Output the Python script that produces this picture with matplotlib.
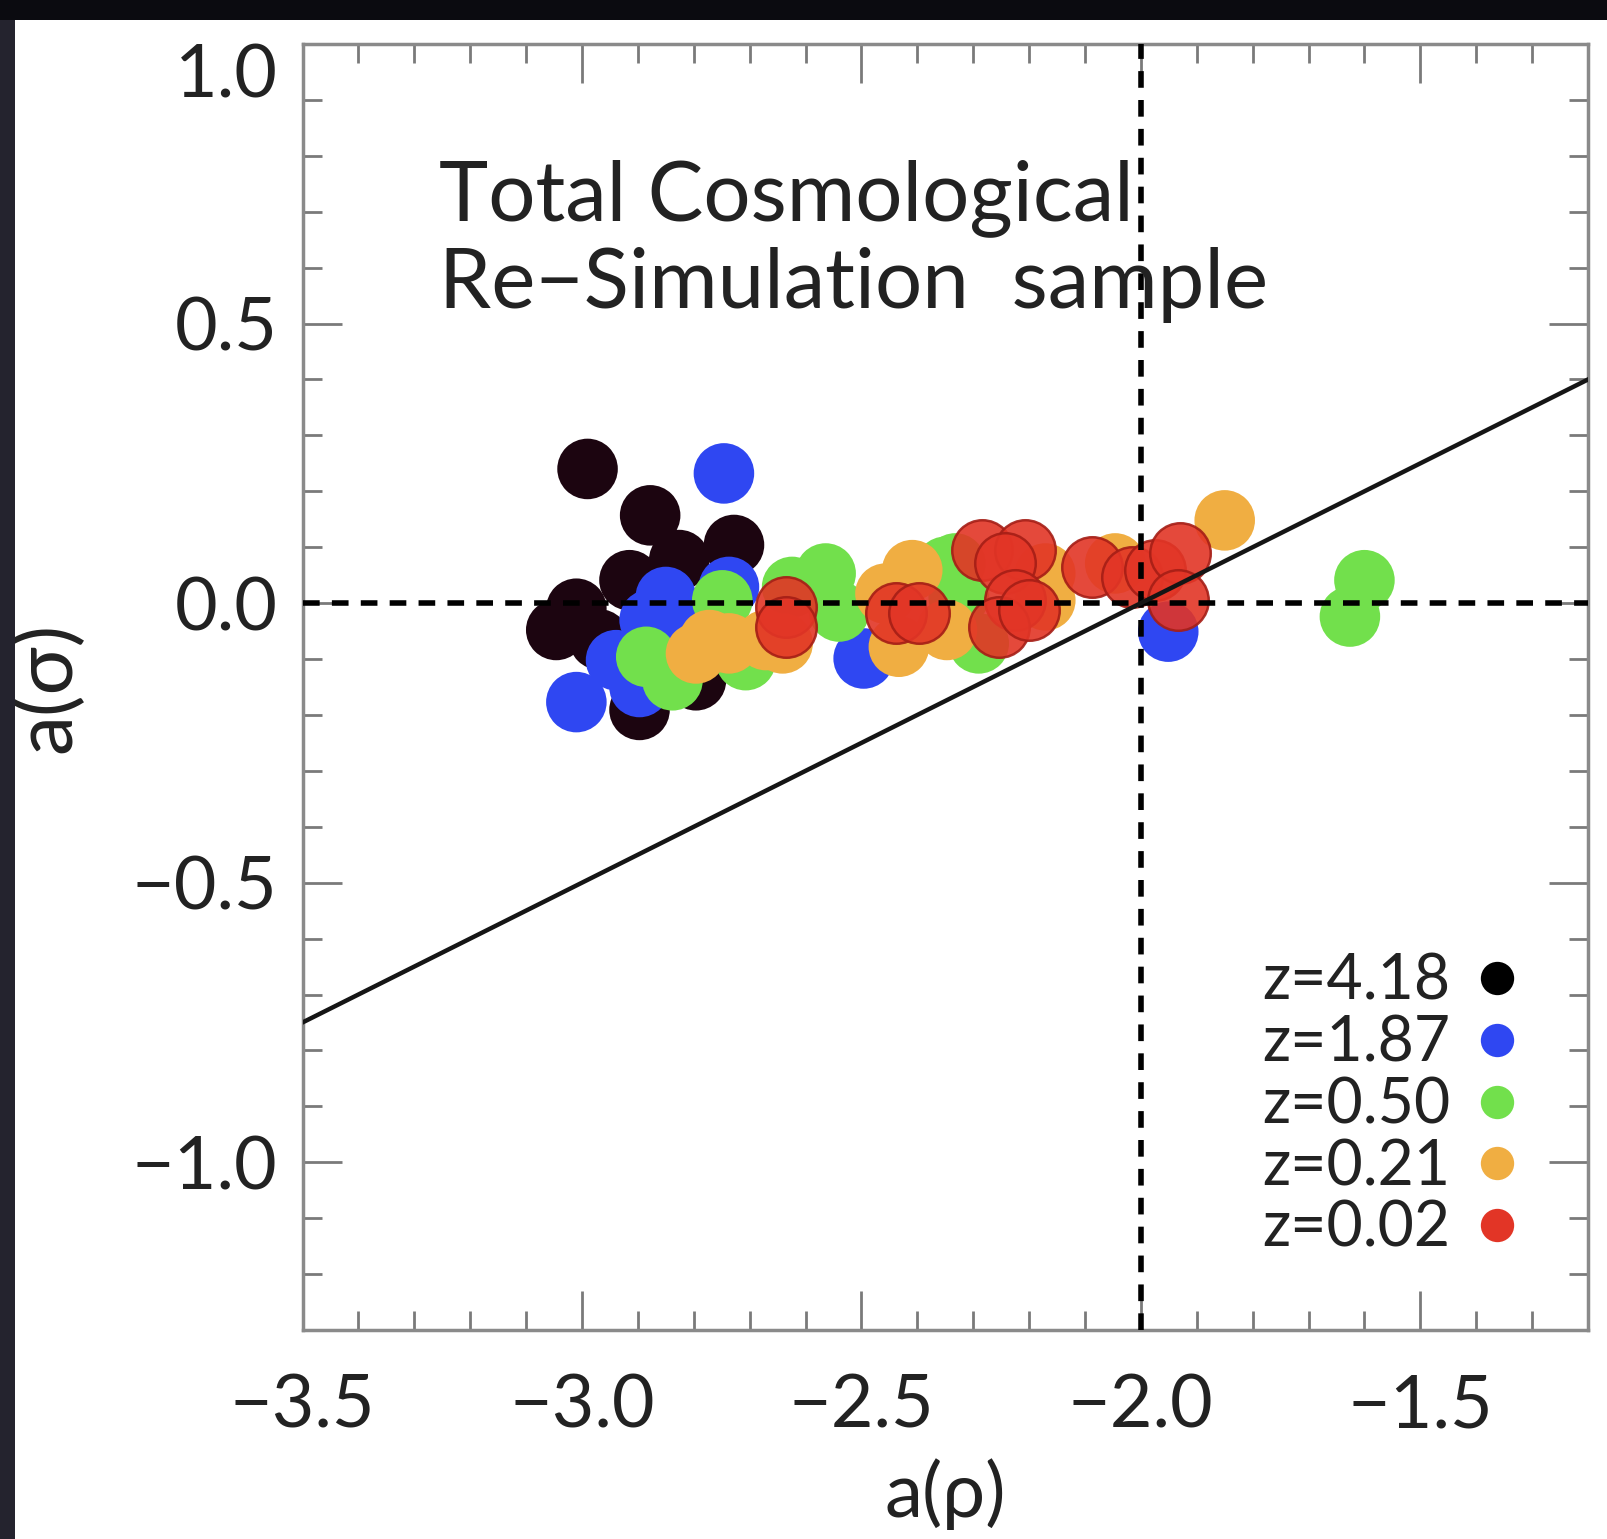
import matplotlib
matplotlib.use("Agg")
import matplotlib.pyplot as plt
from matplotlib.patches import Rectangle
from matplotlib.lines import Line2D
from matplotlib.ticker import MultipleLocator

plt.rcParams['font.family'] = ['Lato', 'DejaVu Sans']

# ---- data ----
labels = ["z=4.18", "z=1.87", "z=0.50", "z=0.21", "z=0.02"]
colors = ["#1c0510", "#2f47f2", "#72e04c", "#f0ae42", "#e23526"]
legend_colors = ["#000000", "#2f47f2", "#72e04c", "#f0ae42", "#e23526"]

x_z418 = [-2.99, -2.878, -2.728, -2.826, -2.915, -3.010, -3.046, -2.969, -2.897, -2.796]
y_z418 = [0.24, 0.157, 0.104, 0.077, 0.041, -0.010, -0.048, -0.065, -0.191, -0.138]

x_z187 = [-2.746, -2.737, -2.850, -2.879, -2.939, -3.010, -2.897, -2.799, -2.496, -1.951]
y_z187 = [0.232, 0.029, 0.011, -0.030, -0.102, -0.177, -0.150, -0.030, -0.099, -0.051]

x_z050 = [-2.749, -2.885, -2.838, -2.707, -2.624, -2.564, -2.540, -2.350, -2.332, -2.326, -2.290, -1.600, -1.626]
y_z050 = [0.005, -0.096, -0.138, -0.102, 0.029, 0.053, -0.015, 0.065, 0.071, 0.011, -0.072, 0.041, -0.024]

x_z021 = [-2.796, -2.737, -2.671, -2.772, -2.641, -2.409, -2.457, -2.433, -2.347, -2.171, -2.171, -2.046, -1.850]
y_z021 = [-0.090, -0.072, -0.066, -0.066, -0.072, 0.059, 0.017, -0.078, -0.048, 0.053, 0.005, 0.071, 0.148]

x_z002 = [-2.635, -2.635, -2.439, -2.397, -2.284, -2.207, -2.243, -2.225, -2.254, -2.201, -2.088, -2.016, -1.975, -1.930, -1.933]
y_z002 = [-0.007, -0.042, -0.018, -0.018, 0.095, 0.095, 0.071, 0.005, -0.042, -0.013, 0.065, 0.047, 0.059, 0.089, 0.005]

series_x = [x_z418, x_z187, x_z050, x_z021, x_z002]
series_y = [y_z418, y_z187, y_z050, y_z021, y_z002]

line_x = [-3.5, -1.2]
slope = 0.5
x_ref = -2.0
y_ref = 0.0

x_ticks = [-3.5, -3.0, -2.5, -2.0, -1.5]
y_ticks = [-1.0, -0.5, 0.0, 0.5, 1.0]

# ---- figure ----
fig = plt.figure(figsize=(16.08, 15.39), dpi=100)
fig.patch.set_facecolor("white")
# dark screenshot frame
fig.patches.append(Rectangle((0, 0), 15 / 1608, 1, transform=fig.transFigure,
                             facecolor="#24232e", edgecolor="none", zorder=0))
fig.patches.append(Rectangle((0, 1 - 20 / 1539), 1, 20 / 1539, transform=fig.transFigure,
                             facecolor="#0b0b10", edgecolor="none", zorder=0))

ax = fig.add_axes([302.5 / 1608, 209 / 1539, 1285.5 / 1608, 1286 / 1539])
ax.set_xlim(-3.5, -1.2)
ax.set_ylim(-1.3, 1.0)

ax.plot(line_x, [slope * (v - x_ref) + y_ref for v in line_x], color="#151515", lw=3.2, zorder=6)
ax.axvline(x_ref, color="black", lw=4, ls=(0, (3, 2.2)), zorder=5)
ax.axhline(y_ref, color="black", lw=4, ls=(0, (3, 2.2)), zorder=5)

for i, (xs, ys) in enumerate(zip(series_x, series_y)):
    if i == 4:
        ax.scatter(xs, ys, s=1900, color=colors[i], edgecolors="#a51e16", linewidths=1.8,
                   alpha=0.9, zorder=3 + i * 0.1)
    else:
        ax.scatter(xs, ys, s=1900, color=colors[i], edgecolors="none", zorder=3 + i * 0.1)

ax.text(-3.255, 0.725, "Total Cosmological", fontsize=60,
        ha="left", va="center", color="#222222", zorder=7)
ax.text(-3.255, 0.569, "Re\u2212Simulation  sample", fontsize=60,
        ha="left", va="center", color="#222222", zorder=7)

handles = [Line2D([], [], ls="none", marker="o", markersize=24, color=c, markeredgewidth=0)
           for c in legend_colors]
leg = ax.legend(handles, labels, loc="lower right", bbox_to_anchor=(0.944, 0.056),
                markerfirst=False, frameon=False, fontsize=45, labelspacing=0.06,
                handlelength=0.6, handletextpad=0.45, borderaxespad=0, borderpad=0)
for t in leg.get_texts():
    t.set_color("#222222")

ax.set_xticks(x_ticks)
ax.set_yticks(y_ticks)
ax.set_xticklabels(["\u22123.5", "\u22123.0", "\u22122.5", "\u22122.0", "\u22121.5"])
ax.set_yticklabels(["\u22121.0", "\u22120.5", "0.0", "0.5", "1.0"])
ax.xaxis.set_minor_locator(MultipleLocator(0.1))
ax.yaxis.set_minor_locator(MultipleLocator(0.1))
ax.tick_params(which="both", direction="in", top=True, right=True, color="#7a7a7a", width=2)
ax.tick_params(which="major", length=28, labelsize=53, labelcolor="#222222")
ax.tick_params(which="minor", length=14)
ax.tick_params(axis="x", which="major", pad=31)
ax.tick_params(axis="y", which="major", pad=18)
for sp in ax.spines.values():
    sp.set_color("#8a8a8a")
    sp.set_linewidth(2.5)
# top label sits just below the axis top, as in the original
ax.get_yticklabels()[-1].set_verticalalignment("top")

ax.set_xlabel("a(\u03c1)", fontsize=55, color="#222222", labelpad=13)
ax.set_ylabel("a(\u03c3)", fontsize=58, color="#222222", labelpad=34)

fig.savefig("out.png", dpi=100, facecolor=fig.get_facecolor())
